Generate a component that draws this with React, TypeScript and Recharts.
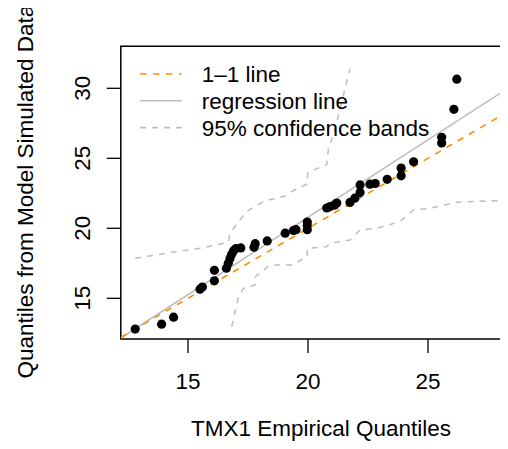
import React from 'react';
import {
  ComposedChart,
  Scatter,
  Line,
  XAxis,
  YAxis,
  ReferenceArea,
  Legend,
  Label,
} from 'recharts';

// sorted empirical vs simulated quantiles
const empiricalQ = [
  12.8, 13.9, 14.4, 15.5, 15.6, 16.1, 16.1, 16.6, 16.68, 16.75, 16.82, 16.9, 17.0, 17.2,
  17.75, 17.8, 18.3, 19.05, 19.4, 19.5, 19.97, 19.97, 19.97, 20.78, 20.92, 21.1, 21.2,
  21.75, 21.95, 22.17, 22.17, 22.58, 22.8, 23.3, 23.88, 23.88, 24.4, 25.57, 25.57, 26.08,
  26.2, 28.25,
];
const simulatedQ = [
  12.8, 13.15, 13.65, 15.65, 15.8, 16.25, 17.0, 17.15, 17.5, 17.85, 18.15, 18.4, 18.55, 18.6,
  18.65, 18.9, 19.1, 19.65, 19.85, 19.9, 19.9, 20.2, 20.45, 21.45, 21.55, 21.65, 21.8,
  21.85, 22.15, 22.55, 23.1, 23.15, 23.2, 23.5, 23.75, 24.3, 24.75, 26.1, 26.5, 28.5,
  30.65, 32.15,
];

// 95% confidence bands
const upperX = [12.8, 14.4, 15.6, 16.68, 16.75, 17.1, 17.45, 17.86, 18.3, 19.05, 19.4, 19.95, 20.0, 20.78, 20.85, 21.1, 21.75];
const upperY = [17.86, 18.3, 18.6, 19.0, 19.64, 20.47, 21.2, 21.66, 22.0, 22.3, 22.7, 23.15, 24.0, 24.55, 25.65, 26.9, 31.4];
const lowerX = [16.82, 17.1, 17.3, 17.8, 17.8, 18.42, 19.32, 19.97, 19.97, 20.78, 20.92, 21.75, 22.17, 22.86, 23.83, 24.39, 25.08, 26.2, 27.72, 28.35];
const lowerY = [12.97, 15.1, 15.7, 15.95, 16.54, 17.38, 17.38, 17.97, 18.57, 18.69, 18.93, 19.16, 19.88, 20.0, 20.47, 21.31, 21.43, 21.86, 21.97, 21.97];

const xTicks = [15, 20, 25];
const yTicks = [15, 20, 25, 30];

const X_DOMAIN: [number, number] = [12.2, 30.2];
const Y_DOMAIN: [number, number] = [12.1, 33];

const REG_INTERCEPT = -1.33;
const REG_SLOPE = 1.106;

const FONT = '"Liberation Sans", Arial, Helvetica, sans-serif';
const FS = 22.5;
const ORANGE = '#FF8C00';
const GRAY = '#BEBEBE';

const points = empiricalQ.map((x, i) => ({ x, y: simulatedQ[i] }));
const upperBand = upperX.map((x, i) => ({ x, y: upperY[i] }));
const lowerBand = lowerX.map((x, i) => ({ x, y: lowerY[i] }));
const oneToOne = X_DOMAIN.map((x) => ({ x, y: x }));
const regression = X_DOMAIN.map((x) => ({ x, y: REG_INTERCEPT + REG_SLOPE * x }));

const XTick = ({ x, y, payload }: any) => (
  <text x={x} y={y + 36.4} textAnchor="middle" fontSize={FS} fontFamily={FONT} fill="#000">
    {payload.value}
  </text>
);

const YTick = ({ y, payload }: any) => (
  <text
    transform={`translate(90, ${y}) rotate(-90)`}
    textAnchor="middle"
    fontSize={FS}
    fontFamily={FONT}
    fill="#000"
  >
    {payload.value}
  </text>
);

const legendRows = [
  { label: '1\u20131 line', color: ORANGE, dash: '6.5 6.5' },
  { label: 'regression line', color: GRAY, dash: undefined },
  { label: '95% confidence bands', color: GRAY, dash: '6 6' },
];

const LegendBox = () => (
  <svg width={320} height={90} style={{ display: 'block' }}>
    {legendRows.map((r, i) => {
      const cy = 14 + i * 26.8;
      return (
        <g key={r.label}>
          <line x1={0} x2={41.7} y1={cy} y2={cy} stroke={r.color} strokeWidth={1.6} strokeDasharray={r.dash} />
          <text x={61.7} y={cy + 8.2} fontSize={FS} fontFamily={FONT} fill="#000">
            {r.label}
          </text>
        </g>
      );
    })}
  </svg>
);

export default function App() {
  return (
    <div style={{ margin: -8 }}>
      <style>{'html, body { overflow: hidden; }'}</style>
      <ComposedChart
        width={572.8}
        height={449}
        margin={{ top: 46.3, right: 20, bottom: 0, left: 0 }}
        style={{ fontFamily: FONT }}
      >
        <XAxis
          type="number"
          dataKey="x"
          domain={X_DOMAIN}
          allowDataOverflow
          ticks={xTicks}
          axisLine={false}
          tickLine={{ stroke: '#000', strokeWidth: 1.3 }}
          tickSize={14}
          tickMargin={0}
          tick={<XTick />}
          height={110.1}
        >
          <Label
            content={({ viewBox }: any) => (
              <text
                x={viewBox.x + 200.2}
                y={viewBox.y + 97.6}
                textAnchor="middle"
                fontSize={FS}
                fontFamily={FONT}
                fill="#000"
              >
                TMX1 Empirical Quantiles
              </text>
            )}
          />
        </XAxis>
        <YAxis
          type="number"
          dataKey="y"
          domain={Y_DOMAIN}
          allowDataOverflow
          ticks={yTicks}
          axisLine={false}
          tickLine={{ stroke: '#000', strokeWidth: 1.3 }}
          tickSize={14}
          tickMargin={0}
          tick={<YTick />}
          width={120.8}
        >
          <Label
            content={({ viewBox }: any) => (
              <text
                transform={`translate(33.5, ${viewBox.y + viewBox.height / 2 - 1}) rotate(-90)`}
                textAnchor="middle"
                fontSize={FS}
                fontFamily={FONT}
                fill="#000"
              >
                Quantiles from Model Simulated Data
              </text>
            )}
          />
        </YAxis>
        <ReferenceArea
          x1={X_DOMAIN[0]}
          x2={X_DOMAIN[1]}
          y1={Y_DOMAIN[0]}
          y2={Y_DOMAIN[1]}
          fill="none"
          stroke="#000"
          strokeWidth={1.5}
        />
        <Scatter
          data={points}
          isAnimationActive={false}
          shape={(p: any) => <circle cx={p.cx} cy={p.cy} r={4.6} fill="#000" />}
        />
        <Line data={upperBand} dataKey="y" stroke={GRAY} strokeWidth={1.5} strokeDasharray="6 6" dot={false} isAnimationActive={false} />
        <Line data={lowerBand} dataKey="y" stroke={GRAY} strokeWidth={1.5} strokeDasharray="6 6" dot={false} isAnimationActive={false} />
        <Line data={regression} dataKey="y" stroke={GRAY} strokeWidth={1.6} dot={false} isAnimationActive={false} />
        <Line data={oneToOne} dataKey="y" stroke={ORANGE} strokeWidth={1.6} strokeDasharray="6.5 6.5" dot={false} isAnimationActive={false} />
        <Legend
          layout="horizontal"
          verticalAlign="middle"
          align="center"
          content={<LegendBox />}
          wrapperStyle={{ left: 140, top: 60, width: 320, height: 90 }}
        />
      </ComposedChart>
    </div>
  );
}
